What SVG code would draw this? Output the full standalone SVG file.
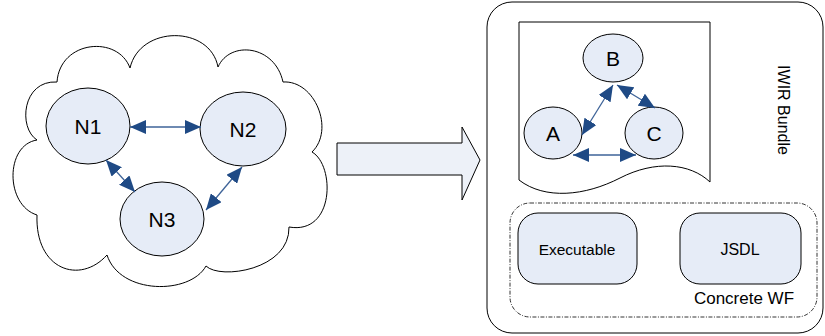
<svg xmlns="http://www.w3.org/2000/svg" width="825" height="336" viewBox="0 0 825 336">
<style>
.node{fill:#E6ECF7;stroke:#000;stroke-width:1}
.lbl{font-family:"Liberation Sans",Arial,sans-serif;fill:#000;text-anchor:middle}
.big{font-size:21px}
.mid{font-size:15.5px}
.edge{stroke:#3E6398;stroke-width:1.3;fill:none;marker-start:url(#ah);marker-end:url(#ah)}
</style>
<defs>
<marker id="ah" viewBox="0 0 16 14" refX="16" refY="7" markerWidth="16" markerHeight="14" markerUnits="userSpaceOnUse" orient="auto-start-reverse">
<path d="M0,0 L16,7 L0,14 Z" fill="#1F4A85"/>
</marker>
</defs>
<rect width="825" height="336" fill="#fff"/>
<g id="cloud">
<path d="M37,140 C18,128 22,80 57,82 C60,40 118,35 130,68 C140,25 210,25 218,67 C230,40 275,45 283,82 C315,80 335,130 312,152 C335,165 335,235 289,227 C290,270 220,280 206,266 C190,295 120,295 107,255 C80,285 35,270 37,215 C5,205 5,145 37,140 Z" fill="#fff" stroke="#000" stroke-width="1"/>
</g>
<g id="n1"><ellipse class="node" cx="88" cy="126" rx="42" ry="38"/><text class="lbl big" x="88" y="134">N1</text></g>
<g id="n2"><ellipse class="node" cx="243" cy="129" rx="43" ry="37"/><text class="lbl big" x="243" y="137">N2</text></g>
<g id="n3"><ellipse class="node" cx="162" cy="219" rx="42" ry="37"/><text class="lbl big" x="162" y="227">N3</text></g>
<g id="bigarrow">
<path d="M337,143 H462 V127 L480,160 L462,200 V175 H337 Z" fill="#EDF1F8" stroke="#000" stroke-width="1"/>
</g>
<g id="bundle">
<rect x="487" y="2" width="336" height="331" rx="25" ry="25" fill="#fff" stroke="#000" stroke-width="1"/>
<text class="lbl" font-size="16" transform="translate(778,110) rotate(90)">IWIR Bundle</text>
</g>
<g id="document">
<path d="M519,22 H710 V182 C690,163 655,160 620,178 C585,196 545,200 519,180 Z" fill="#fff" stroke="#000" stroke-width="1"/>
</g>
<g id="b"><ellipse class="node" cx="613" cy="58" rx="30" ry="24"/><text class="lbl big" x="613" y="66">B</text></g>
<g id="a"><ellipse class="node" cx="553" cy="133" rx="29" ry="26"/><text class="lbl big" x="553" y="141">A</text></g>
<g id="c"><ellipse class="node" cx="654" cy="133" rx="29" ry="26"/><text class="lbl big" x="654" y="141">C</text></g>
<g id="concretewf">
<rect x="510" y="203" width="307" height="114" rx="20" ry="20" fill="none" stroke="#000" stroke-width="0.8" stroke-dasharray="4 1.5 1 1.5"/>
<text class="lbl" font-size="17" x="744" y="304">Concrete WF</text>
</g>
<g id="executable"><rect class="node" x="518" y="213" width="119" height="71" rx="20" ry="20"/><text class="lbl mid" x="577" y="255">Executable</text></g>
<g id="jsdl"><rect class="node" x="680" y="213" width="121" height="71" rx="20" ry="20"/><text class="lbl" font-size="16" x="740" y="255">JSDL</text></g>
<g id="connectors">
<line class="edge" x1="130" y1="127" x2="201" y2="127"/>
<line class="edge" x1="106" y1="160" x2="135" y2="192"/>
<line class="edge" x1="242" y1="167" x2="206" y2="210"/>
<line class="edge" x1="582" y1="135" x2="613" y2="85"/>
<line class="edge" x1="617" y1="85" x2="655" y2="108"/>
<line class="edge" x1="573" y1="155" x2="636" y2="155"/>
</g>
</svg>
